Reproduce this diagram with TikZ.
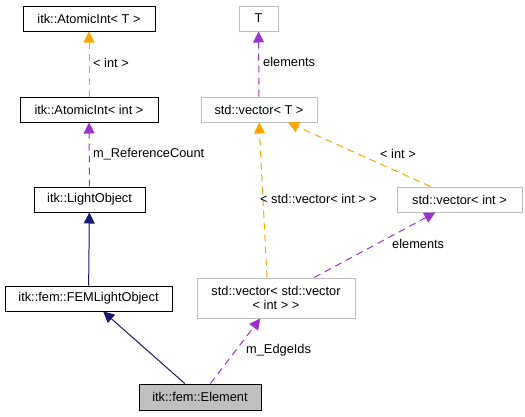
\documentclass[tikz,border=0pt]{standalone}
\usepackage{fontspec}
\setmainfont{Liberation Sans}
\usetikzlibrary{arrows.meta,calc}
\definecolor{navyc}{HTML}{191970}
\definecolor{orangec}{HTML}{FFA500}
\definecolor{purplec}{HTML}{9A32CD}
\definecolor{grayb}{HTML}{BFBFBF}
\begin{document}
\begin{tikzpicture}[x=1pt,y=-1pt,
  font=\fontsize{12.8}{14.5}\selectfont,
  cls/.style={draw=black,line width=1pt,minimum height=25pt,inner sep=0pt,fill=white},
  ext/.style={draw=grayb,line width=1pt,minimum height=25pt,inner sep=0pt,fill=white},
  tip/.style={-{Triangle[length=11pt,width=11pt]}},
  inh/.style={tip,draw=navyc,line width=1pt},
  tmpl/.style={tip,draw=orangec,line width=1pt,dash pattern=on 7pt off 5pt},
  use/.style={tip,draw=purplec,line width=1pt,dash pattern=on 7pt off 5pt},
  lab/.style={anchor=west,inner sep=0pt}]
\useasboundingbox (0,0) rectangle (525,416);
\node[cls,minimum width=132pt] (aT) at (89,18.5) {itk::AtomicInt< T >};
\node[cls,minimum width=138pt] (ai) at (89,109.5) {itk::AtomicInt< int >};
\node[cls,minimum width=111pt] (lo) at (89.5,199.5) {itk::LightObject};
\node[cls,minimum width=167pt] (fem) at (88.5,298.5) {itk::fem::FEMLightObject};
\node[cls,minimum width=122pt,minimum height=26pt,fill=grayb] (el) at (200,397) {itk::fem::Element};
\node[ext,minimum width=158pt,minimum height=40pt,align=center] (vvi) at (276,298) {std::vector< std::vector\\< int > >};
\node[ext,minimum width=39pt] (T) at (258.5,18.5) {T};
\node[ext,minimum width=116pt] (vT) at (259,109.5) {std::vector< T >};
\node[ext,minimum width=125pt] (vi) at (459.5,199.5) {std::vector< int >};

\draw[tmpl] (ai) -- (aT);
\draw[use] (lo) -- (ai);
\draw[inh] (fem) -- (lo);
\draw[inh] (el) -- (fem);
\draw[use] (el) -- (vvi);
\draw[tmpl] ($(vvi.north)+(-9,0)$) -- (vT.south);
\draw[use] (vvi) -- (vi);
\draw[tmpl] (vi) -- (vT);
\draw[use] (vT) -- (T);

\node[lab] (l1) at (93,63) {< int >};
\node[lab] (l2) at (93,154) {m\_ReferenceCount};
\node[lab] (l3) at (263,62) {elements};
\node[lab] (l4) at (380,154) {< int >};
\node[lab] (l5) at (260,199) {< std::vector< int > >};
\node[lab] (l6) at (392,244) {elements};
\node[lab] (l7) at (246,350) {m\_EdgeIds};
\end{tikzpicture}
\end{document}
